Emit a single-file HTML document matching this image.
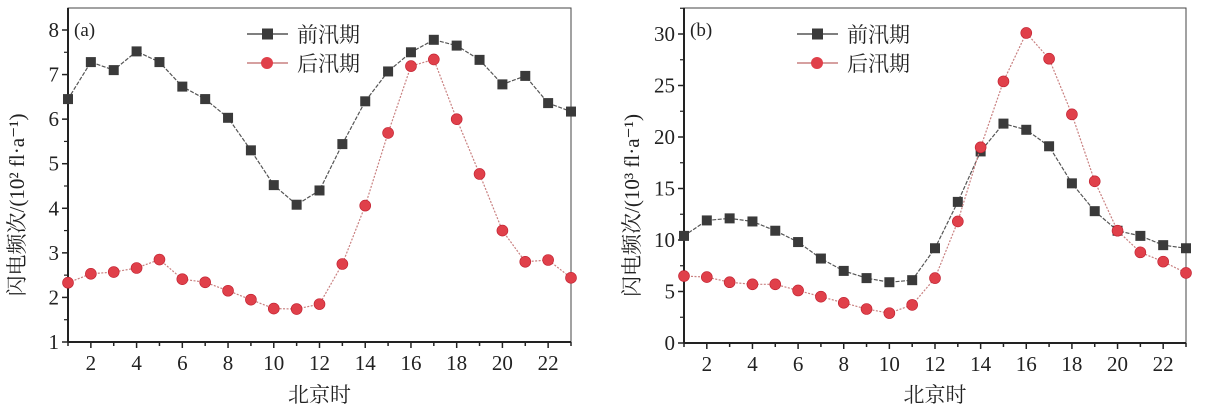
<!DOCTYPE html>
<html><head><meta charset="utf-8"><style>
html,body{margin:0;padding:0;background:#fff;}
svg{display:block;font-family:"Liberation Serif","Noto Serif CJK SC",serif;}
</style></head><body>
<svg id="svg" width="1214" height="416"></svg>
<script>
const hours=[1,2,3,4,5,6,7,8,9,10,11,12,13,14,15,16,17,18,19,20,21,22,23];
const xTicks=[2,4,6,8,10,12,14,16,18,20,22];
const aEarly=[6.45,7.28,7.1,7.52,7.28,6.73,6.45,6.03,5.3,4.52,4.08,4.4,5.44,6.4,7.07,7.5,7.78,7.65,7.33,6.78,6.97,6.36,6.17];
const aLate=[2.33,2.53,2.57,2.66,2.85,2.41,2.34,2.15,1.95,1.75,1.74,1.85,2.75,4.06,5.69,7.19,7.34,6.0,4.77,3.5,2.8,2.84,2.44];
const bEarly=[10.4,11.9,12.1,11.8,10.9,9.8,8.2,7.0,6.3,5.9,6.1,9.2,13.7,18.6,21.3,20.7,19.1,15.5,12.8,10.9,10.4,9.5,9.2];
const bLate=[6.5,6.4,5.9,5.7,5.7,5.1,4.5,3.9,3.3,2.9,3.7,6.3,11.8,19.0,25.4,30.1,27.6,22.2,15.7,10.9,8.8,7.9,6.8];
const aYTicks=[1,2,3,4,5,6,7,8];
const bYTicks=[0,5,10,15,20,25,30];
const legendLabels=["前汛期","后汛期"];
const NS="http://www.w3.org/2000/svg";
const svg=document.getElementById('svg');
function el(t,a,p){const e=document.createElementNS(NS,t);for(const k in a)e.setAttribute(k,a[k]);(p||svg).appendChild(e);return e;}
function panel(cfg){
  const g=el('g',{});
  
  
  const L=cfg.left,R=cfg.right,T=8,B=cfg.bottom;
  const xs=h=>L+(h-1)*(R-L)/22;
  const ys=v=>cfg.y0px+(v-cfg.ymin)*(cfg.y1px-cfg.y0px)/(cfg.ymax-cfg.ymin);
  const frame=el('rect',{x:L,y:T,width:R-L,height:B-T,fill:'none',stroke:'#444','stroke-width':1},g);
  
  el('line',{x1:L,y1:B,x2:R,y2:B,stroke:'#222','stroke-width':2},g);
  el('line',{x1:L,y1:T,x2:L,y2:B,stroke:'#222','stroke-width':2},g);
  hours.forEach(h=>{const maj=xTicks.includes(h);el('line',{x1:xs(h),y1:B,x2:xs(h),y2:B+(maj?6:4),stroke:'#222','stroke-width':1.5},g);});
  xTicks.forEach(h=>{const t=el('text',{x:xs(h),y:B+28,'font-size':21,'text-anchor':'middle',fill:'#222'},g);t.textContent=h;
    });
  const yt=cfg.yticks;const step=yt[1]-yt[0];
  yt.forEach((v,i)=>{el('line',{x1:L-6,y1:ys(v),x2:L,y2:ys(v),stroke:'#222','stroke-width':1.5},g);
    if(i<yt.length-1||ys(v+step/2)>T)el('line',{x1:L-4,y1:ys(v+step/2),x2:L,y2:ys(v+step/2),stroke:'#222','stroke-width':1.2},g);
    const t=el('text',{x:L-9,y:ys(v)+7,'font-size':21,'text-anchor':'end',fill:'#222'},g);t.textContent=v;
    });
  const xt=el('text',{x:(L+R)/2,y:402,'font-size':21,'text-anchor':'middle',fill:'#222'},g);xt.textContent='北京时';
  
  const yx=cfg.ytitleX, yy=(T+B)/2+30;
  const ytt=el('text',{x:yx,y:yy,'font-size':21,'text-anchor':'middle',fill:'#222',transform:`rotate(-90 ${yx} ${yy})`},g);
  ytt.textContent=cfg.ytitle;
  
  const pl=el('text',{x:L+6,y:36,'font-size':19,fill:'#222'},g);pl.textContent=cfg.label;
  
  const ser=[[cfg.early,'#555','#3a3a3a','sq'],[cfg.late,'#c98080','#e0404a','ci']];
  ser.forEach(([d,lc,mc,mk],si)=>{
    const pts=d.map((v,i)=>xs(hours[i])+','+ys(v)).join(' ');
    const line=el('polyline',{points:pts,fill:'none',stroke:lc,'stroke-width':1.2,'stroke-dasharray':si?'2 1.5':'4 1.5'},g);
    
    d.forEach((v,i)=>{let m;
      if(mk==='sq')m=el('rect',{x:xs(hours[i])-5,y:ys(v)-5,width:10,height:10,fill:mc},g);
      else m=el('circle',{cx:xs(hours[i]),cy:ys(v),r:5.5,fill:mc,stroke:'#c02030','stroke-width':0.6},g);
      });
  });
  [0,1].forEach(i=>{const ly=34+i*29,lx=cfg.legX;
    const lg=el('g',{},g);
    el('line',{x1:lx,y1:ly,x2:lx+41,y2:ly,stroke:i?'#c98080':'#555','stroke-width':1.5},lg);
    if(i)el('circle',{cx:lx+20,cy:ly,r:6,fill:'#e0404a'},lg);else el('rect',{x:lx+15,y:ly-5.5,width:11,height:11,fill:'#3a3a3a'},lg);
    const t=el('text',{x:lx+50,y:ly+8,'font-size':21,fill:'#222'},lg);t.textContent=legendLabels[i];});
}
panel({name:'panel-a',left:68,right:571,bottom:342,y0px:342,y1px:30,ymin:1,ymax:8,yticks:aYTicks,early:aEarly,late:aLate,label:'(a)',legX:247,ytitleX:24,ytitle:'闪电频次/(10² fl·a⁻¹)'});
panel({name:'panel-b',left:684,right:1186,bottom:343,y0px:343,y1px:34,ymin:0,ymax:30,yticks:bYTicks,early:bEarly,late:bLate,label:'(b)',legX:797,ytitleX:639,ytitle:'闪电频次/(10³ fl·a⁻¹)'});
</script>
</body></html>
